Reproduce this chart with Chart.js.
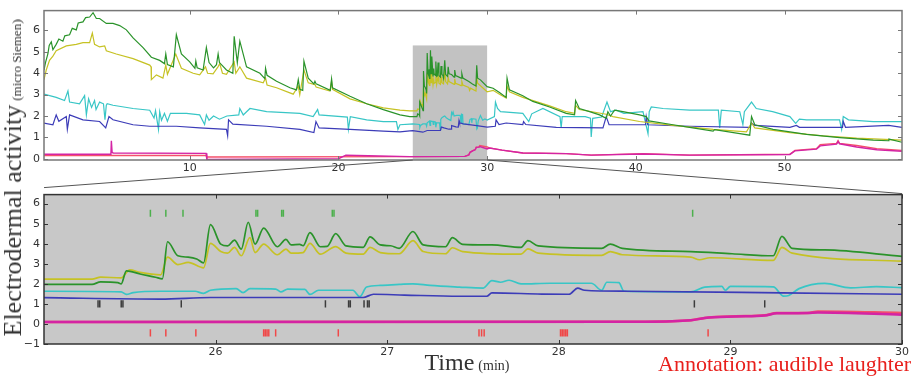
<!DOCTYPE html>
<html>
<head>
<meta charset="utf-8">
<script src="https://cdn.jsdelivr.net/npm/chart.js@4"></script>
<style>
body{margin:0;background:#fff;width:916px;height:382px;overflow:hidden;position:relative;font-family:"DejaVu Sans";}
canvas{position:absolute;left:0;}
#topCanvas{top:0;}
#botCanvas{top:184px;}
#links{top:0;pointer-events:none;}
.serif{position:absolute;font-family:"Liberation Serif";white-space:nowrap;color:#333;}
#ylab{left:15px;top:178px;line-height:28px;transform:translate(-50%,-50%) rotate(-90deg);}
#ylab .big{font-size:26px;}
#ylab .small{font-size:13px;}
#xlab{left:467px;top:350px;line-height:24px;transform:translateX(-50%);}
#xlab .big{font-size:24px;}
#xlab .small{font-size:14px;}
#note{right:5px;top:353px;line-height:22px;font-size:22px;color:#e8201c;}
</style>
</head>
<body>
<canvas id="topCanvas" width="916" height="178"></canvas>
<canvas id="botCanvas" width="916" height="176"></canvas>
<canvas id="links" width="916" height="382"></canvas>
<div id="ylab" class="serif"><span class="big">Electrodermal activity</span> <span class="small">(micro Siemen)</span></div>
<div id="xlab" class="serif"><span class="big">Time</span> <span class="small">(min)</span></div>
<div id="note" class="serif">Annotation: audible laughter</div>
<script>
// tick labels
var topXTicks = [10,20,30,40,50];
var topYTicks = [0,1,2,3,4,5,6];
var botXTicks = [26,27,28,29,30];
var botYTicks = [-1,0,1,2,3,4,5,6];

// zoomed window 25-30 min (also used inside the top overview)
var zoomGreenT = [25.0,25.28,25.33,25.43,25.45,25.48,25.56,25.65,25.69,25.72,25.78,25.84,25.89,25.93,25.97,26.03,26.07,26.11,26.15,26.19,26.23,26.28,26.36,26.41,26.44,26.49,26.51,26.55,26.61,26.65,26.70,26.76,26.86,26.90,26.96,27.02,27.07,27.15,27.21,27.34,27.38,27.44,27.61,27.78,27.82,27.88,28.25,28.30,28.37,28.77,29.01,29.25,29.30,29.36,29.55,30.0];
var zoomGreenV = [1.97,1.97,2.1,2.06,2.0,2.65,2.49,2.33,2.25,4.10,3.40,3.33,3.24,3.05,4.95,3.98,3.89,4.18,3.73,5.07,3.98,4.78,3.85,4.22,3.94,3.97,3.9,4.55,3.85,3.87,4.5,3.89,3.82,4.34,3.94,3.9,3.77,4.61,3.94,3.85,4.3,3.97,3.94,3.82,4.15,3.89,3.77,3.98,3.77,3.61,3.5,3.4,4.37,3.77,3.69,3.37];
var zoomYellowT = [25.0,25.28,25.33,25.45,25.50,25.56,25.68,25.72,25.78,25.84,25.93,25.97,26.03,26.07,26.11,26.15,26.20,26.23,26.28,26.36,26.41,26.44,26.51,26.55,26.61,26.70,26.76,26.86,26.90,26.96,27.07,27.15,27.21,27.34,27.38,27.44,27.78,27.82,27.88,28.25,28.30,28.37,28.77,28.82,28.88,29.25,29.30,29.36,30.0];
var zoomYellowV = [2.24,2.24,2.33,2.3,2.7,2.57,2.45,3.33,2.96,3.07,2.8,4.02,3.61,3.53,3.82,3.4,4.3,3.56,3.98,3.45,3.73,3.53,3.56,4.02,3.48,3.86,3.53,3.48,3.82,3.56,3.5,4.15,3.61,3.5,3.8,3.61,3.48,3.74,3.53,3.42,3.61,3.45,3.33,3.2,3.3,3.17,3.82,3.53,3.13];
var zoomCyanT = [25.0,25.45,25.48,25.52,25.68,25.88,25.93,25.97,26.12,26.16,26.2,26.35,26.38,26.42,26.52,26.55,26.6,26.8,26.84,26.88,26.96,27.07,27.15,27.25,27.42,27.56,27.61,27.66,27.71,27.78,27.95,28.19,28.25,28.28,28.35,28.38,28.77,28.85,28.95,28.97,29.0,29.25,29.31,29.34,29.4,29.55,29.7,29.85,30.0];
var zoomCyanV = [1.63,1.6,1.47,1.56,1.63,1.63,1.52,1.68,1.76,1.56,1.76,1.74,1.6,1.74,1.72,1.47,1.68,1.68,1.36,1.84,1.92,1.97,2.0,1.92,1.84,1.79,2.16,2.08,2.18,2.0,2.03,2.03,1.68,2.08,2.06,1.63,1.6,1.84,1.87,1.68,1.87,1.85,1.39,1.42,1.76,2.02,1.8,1.86,1.81];
var zoomBlueT = [25.0,25.68,25.97,26.86,26.92,27.1,27.42,27.58,27.61,27.9,28.06,28.11,28.15,28.4,29.3,30.0];
var zoomBlueV = [1.31,1.24,1.32,1.32,1.48,1.44,1.38,1.38,1.55,1.49,1.48,1.79,1.68,1.63,1.55,1.48];
var zoomRedT = [25.0,28.5,28.77,28.85,29.03,29.2,29.27,29.45,29.51,30.0];
var zoomRedV = [0.1,0.11,0.18,0.3,0.38,0.43,0.54,0.55,0.62,0.55];
var zoomMagentaT = [25.0,28.5,28.77,28.85,29.03,29.2,29.27,29.45,29.51,30.0];
var zoomMagentaV = [0.1,0.11,0.18,0.3,0.37,0.42,0.53,0.54,0.57,0.46];

// overview outside the zoom window
var topGreenT = [0.2,0.3,0.46,0.55,0.69,0.8,1.02,1.2,1.47,1.6,1.92,2.1,2.37,2.5,2.82,3.0,3.27,3.5,3.72,3.94,4.39,4.84,5.29,5.74,6.19,6.86,7.42,7.98,8.3,8.39,8.5,8.9,9.1,9.44,10.0,10.35,10.41,10.5,10.9,11.12,11.3,11.6,11.8,11.91,12.0,12.47,12.9,12.99,13.2,13.37,13.82,14.72,15.05,15.1,15.2,15.84,16.74,17.18,17.3,17.4,17.6,17.68,17.97,18.35,18.42,18.5,19.45,19.54,19.6,20.78,21.9,23.02,24.14,24.8,
  30.4,30.83,31.28,31.34,31.5,32.4,33.07,34.2,35.32,35.88,35.95,36.2,36.89,37.56,38.01,38.12,38.3,38.57,39.13,40.25,40.7,40.88,42.5,43.62,45.2,45.3,46.99,47.66,47.78,48.0,49.23,51.48,53.72,55.97,56.98,57.02,57.9];
var topGreenV = [4.15,4.5,4.9,5.3,5.47,5.1,5.35,5.6,5.5,5.75,5.8,6.1,6.03,6.35,6.4,6.6,6.63,6.83,6.56,6.56,6.33,6.33,6.23,6.03,5.65,5.2,4.75,4.6,4.45,4.9,4.4,4.3,5.8,4.9,4.53,4.23,4.57,4.25,4.15,5.2,4.5,4.25,4.4,4.9,4.5,4.15,4.0,5.73,4.5,5.5,4.3,4.0,3.75,4.23,3.9,3.62,3.32,3.22,3.7,3.25,3.2,4.57,3.77,3.5,3.62,3.5,3.2,3.73,3.32,2.92,2.57,2.3,2.05,1.97,
  3.3,3.1,2.87,3.77,3.22,2.95,2.68,2.42,2.12,2.05,2.72,2.35,2.2,2.05,1.89,2.2,2.0,2.27,2.2,2.05,1.97,1.77,1.59,1.47,1.29,1.36,1.17,1.1,1.97,1.59,1.37,1.14,0.99,0.87,0.84,0.92,0.77];
var topYellowT = [0.2,0.35,0.57,0.8,1.02,1.7,2.37,2.82,3.27,3.45,3.6,3.94,4.28,4.39,5.06,6.19,7.31,7.4,7.42,7.76,8.2,8.39,8.5,9.06,9.44,10.23,10.67,11.06,11.2,11.57,11.9,12.02,12.2,12.47,12.99,13.1,13.37,13.82,14.94,15.1,15.2,15.84,16.96,17.3,17.4,17.68,17.97,18.42,18.5,19.43,19.54,19.6,20.78,21.9,23.02,24.14,24.8,
  30.4,30.83,31.28,31.34,31.5,32.4,34.2,35.32,35.88,35.95,36.2,38.01,38.46,40.25,42.5,45.2,47.44,47.78,48.0,50.36,52.6,54.85,57.9];
var topYellowV = [3.7,4.15,4.6,4.8,5.05,5.28,5.35,5.43,5.43,5.88,5.35,5.23,5.28,5.05,4.9,4.68,4.38,4.3,3.7,3.92,3.77,4.38,3.95,4.9,4.23,4.0,3.92,4.3,4.0,3.97,4.3,4.45,4.0,3.95,4.53,4.0,4.3,3.77,3.55,3.77,3.45,3.32,3.02,3.4,3.0,4.15,3.55,3.47,3.35,3.17,3.62,3.25,2.8,2.57,2.38,2.27,2.24,
  3.2,3.02,2.84,3.4,3.13,2.87,2.47,2.2,2.12,2.5,2.3,2.08,1.97,1.74,1.56,1.37,1.26,1.67,1.44,1.22,1.07,0.96,0.87];
var topCyanT = [0.2,1.02,1.58,1.81,1.92,2.59,2.93,3.05,3.2,3.4,3.6,3.7,3.94,4.2,4.3,4.39,4.45,4.84,6.19,7.31,7.6,7.7,7.9,7.98,8.1,8.3,8.5,8.7,9.78,10.67,11.0,11.12,11.3,11.6,12.0,12.5,13.3,13.37,13.6,14.05,15.17,17.41,18.3,18.6,18.7,20.6,20.67,20.8,21.9,23.02,23.9,24.0,24.14,24.8,
  30.49,30.56,30.7,30.9,32.4,32.8,33.0,33.75,34.9,34.98,35.05,35.32,36.6,36.95,37.0,37.1,37.7,38.06,38.3,38.68,39.2,40.48,40.82,40.9,41.04,41.83,43.62,45.55,45.64,45.75,46.99,47.2,47.3,47.78,48.1,49.2,50.36,50.75,51.0,51.48,53.7,53.84,53.95,54.3,55.97,57.9];
var topCyanV = [3.02,2.87,2.72,3.17,2.65,2.57,2.95,2.05,2.8,2.4,2.72,2.3,2.65,2.57,1.82,2.5,2.57,2.5,2.35,2.27,1.9,2.25,1.37,2.2,1.8,2.12,1.75,2.12,2.12,2.05,1.6,2.05,1.8,2.0,1.85,2.0,2.05,2.35,2.05,2.35,2.2,2.12,1.97,2.3,2.05,1.95,1.37,1.97,1.82,1.74,1.74,1.37,1.59,1.62,
  1.97,2.65,2.35,2.2,2.12,1.74,2.1,2.35,1.97,1.44,1.97,1.97,1.97,1.9,1.02,1.89,1.95,2.65,2.2,2.27,2.12,2.2,1.17,2.2,2.42,2.35,2.27,2.27,1.44,2.27,2.2,1.6,2.2,2.65,2.35,2.2,1.97,1.65,1.85,1.82,1.82,1.37,1.97,1.82,1.74,1.74];
var topBlueT = [0.2,0.8,1.02,1.2,1.7,1.77,1.92,2.82,3.94,4.35,4.57,4.84,6.19,7.31,9.1,10.67,12.47,12.55,12.61,12.9,15.17,17.41,18.35,18.49,18.7,20.78,23.02,24.14,24.8,
  30.55,30.6,30.8,31.28,32.4,32.45,32.6,34.65,37.79,38.01,38.2,39.58,40.65,40.7,40.8,43.62,47.66,47.78,48.0,50.36,50.8,51.0,53.9,53.95,54.1,57.0,57.9];
var topBlueV = [1.67,1.59,2.05,1.75,1.97,1.37,2.05,1.82,1.74,1.44,1.97,1.82,1.59,1.52,1.52,1.44,1.37,1.07,1.82,1.62,1.52,1.37,1.22,1.74,1.44,1.37,1.29,1.26,1.3,
  1.52,1.82,1.6,1.67,1.6,1.74,1.6,1.47,1.44,1.97,1.59,1.59,1.59,1.97,1.59,1.52,1.47,1.67,1.56,1.47,1.56,1.47,1.47,1.74,1.47,1.56,1.47];
var topRedT = [0.2,11.1,11.15,24.8,30.15,31.0,32.4,35.32,37.0,40.5,43.6,50.36,50.7,52.15,52.4,53.5,53.6,53.7,54.85,56.2,57.9];
var topRedV = [0.15,0.15,0.08,0.1,0.51,0.4,0.27,0.24,0.17,0.24,0.17,0.21,0.39,0.47,0.66,0.72,0.84,0.72,0.62,0.47,0.39];
var topMagentaT = [0.2,4.7,4.73,4.78,4.85,11.1,11.15,20.0,20.5,22.0,24.8,30.15,31.0,32.4,35.32,37.0,40.5,43.6,50.36,50.7,52.15,52.4,53.5,53.6,53.7,54.85,56.2,57.9];
var topMagentaV = [0.21,0.21,0.84,0.3,0.27,0.25,-0.03,0.0,0.17,0.14,0.1,0.5,0.4,0.27,0.24,0.17,0.22,0.17,0.2,0.37,0.45,0.6,0.68,0.8,0.7,0.55,0.42,0.35];

// annotation events (minutes)
var greenEvents = [25.62,25.71,25.81,26.235,26.245,26.385,26.395,26.68,26.69,28.78];
var grayEvents = [25.315,25.325,25.45,25.46,25.80,26.64,26.775,26.785,26.865,26.885,26.895,28.79,29.20];
var redEvents = [25.62,25.71,25.885,26.28,26.29,26.30,26.31,26.35,26.715,27.535,27.55,27.565,28.01,28.02,28.03,28.04,28.05,28.87];
var greenLevel = 5.52, grayLevel = 1.0, redLevel = -0.45;

var colors = {green:"#2a932a", yellow:"#c6c224", cyan:"#38c6c6", blue:"#3c3cb8", magenta:"#d424a4", red:"#f4506a"};

function pts(t, v){ return t.map(function(x,i){ return {x:x, y:v[i]}; }); }
function merged(t1, v1, t2, v2){
	return pts(t1, v1).concat(pts(t2, v2)).sort(function(a,b){ return a.x - b.x; });
}
function events(times, level){
	var d = [];
	times.forEach(function(t){
		d.push({x:t, y:level-0.18}, {x:t, y:level+0.18}, {x:t, y:null});
	});
	return d;
}
function fixedTicks(arr){ return function(scale){ scale.ticks = arr.map(function(v){ return {value:v}; }); }; }
function minus(v){ return String(v).replace("-", "\u2212"); }

var framePlugin = {
	id:"frame",
	beforeDatasetsDraw:function(chart, args, o){
		var ctx = chart.ctx, a = chart.chartArea, x = chart.scales.x, y = chart.scales.y;
		ctx.save();
		if (o.bg){ ctx.fillStyle = o.bg; ctx.fillRect(a.left, a.top, a.width, a.height); }
		if (o.band){
			var x0 = x.getPixelForValue(o.band[0]), x1 = x.getPixelForValue(o.band[1]), y0 = y.getPixelForValue(o.band[2]);
			ctx.fillStyle = o.bandColor;
			ctx.fillRect(x0, y0, x1-x0, a.bottom-y0);
		}
		ctx.restore();
	},
	afterDatasetsDraw:function(chart, args, o){
		var ctx = chart.ctx, a = chart.chartArea, x = chart.scales.x, y = chart.scales.y;
		ctx.save();
		ctx.strokeStyle = o.color; ctx.lineWidth = 1;
		ctx.beginPath();
		x.ticks.forEach(function(t){
			var p = Math.round(x.getPixelForValue(t.value)) + 0.5;
			ctx.moveTo(p, a.bottom); ctx.lineTo(p, a.bottom-4);
			ctx.moveTo(p, a.top); ctx.lineTo(p, a.top+4);
		});
		y.ticks.forEach(function(t){
			var p = Math.round(y.getPixelForValue(t.value)) + 0.5;
			ctx.moveTo(a.left, p); ctx.lineTo(a.left+4, p);
			ctx.moveTo(a.right, p); ctx.lineTo(a.right-4, p);
		});
		ctx.stroke();
		ctx.lineWidth = 1.5;
		ctx.strokeRect(a.left, a.top, a.width, a.height);
		ctx.restore();
	}
};

function line(data, color, w){
	return {data:data, borderColor:color, borderWidth:w, pointRadius:0, fill:false};
}

var tickFont = {family:"DejaVu Sans", size:11};
var noGrid = {display:false, drawTicks:false};

var topChart = new Chart(document.getElementById("topCanvas"), {
	type:"line",
	data:{datasets:[
		line(merged(topGreenT, topGreenV, zoomGreenT, zoomGreenV), colors.green, 1.2),
		line(merged(topYellowT, topYellowV, zoomYellowT, zoomYellowV), colors.yellow, 1.2),
		line(merged(topBlueT, topBlueV, zoomBlueT, zoomBlueV), colors.blue, 1.2),
		line(merged(topCyanT, topCyanV, zoomCyanT, zoomCyanV), colors.cyan, 1.2),
		line(merged(topMagentaT, topMagentaV, zoomMagentaT, zoomMagentaV), colors.magenta, 1.4),
		line(merged(topRedT, topRedV, zoomRedT, zoomRedV), colors.red, 1.4)
	]},
	options:{
		responsive:false, animation:false,
		layout:{padding:{top:5, right:14, left:0, bottom:0}},
		plugins:{legend:{display:false}, tooltip:{enabled:false},
			frame:{color:"#777", band:[25,30,5.3], bandColor:"#c2c2c2"}},
		scales:{
			x:{type:"linear", min:0.2, max:57.9, afterBuildTicks:fixedTicks(topXTicks),
				afterFit:function(s){ s.height = 18; },
				grid:noGrid, border:{display:false},
				ticks:{font:tickFont, color:"#333", padding:2, maxRotation:0}},
			y:{min:-0.06, max:6.93, afterBuildTicks:fixedTicks(topYTicks),
				afterFit:function(s){ s.width = 44; },
				grid:noGrid, border:{display:false},
				ticks:{font:tickFont, color:"#333", padding:4}}
		}
	},
	plugins:[framePlugin]
});

var botChart = new Chart(document.getElementById("botCanvas"), {
	type:"line",
	data:{datasets:[
		line(events(greenEvents, greenLevel), "#4cb04c", 1.5),
		line(events(grayEvents, grayLevel), "#3c3c3c", 1.5),
		line(events(redEvents, redLevel), "#f04848", 1.5),
		Object.assign(line(pts(zoomGreenT, zoomGreenV), colors.green, 1.7), {cubicInterpolationMode:"monotone"}),
		Object.assign(line(pts(zoomYellowT, zoomYellowV), colors.yellow, 1.7), {cubicInterpolationMode:"monotone"}),
		Object.assign(line(pts(zoomBlueT, zoomBlueV), colors.blue, 1.7), {cubicInterpolationMode:"monotone"}),
		Object.assign(line(pts(zoomCyanT, zoomCyanV), colors.cyan, 1.7), {cubicInterpolationMode:"monotone"}),
		Object.assign(line(pts(zoomMagentaT, zoomMagentaV), colors.magenta, 2.5), {cubicInterpolationMode:"monotone"}),
		Object.assign(line(pts(zoomRedT, zoomRedV), colors.red, 2.5), {cubicInterpolationMode:"monotone"})
	]},
	options:{
		responsive:false, animation:false,
		layout:{padding:{top:6, right:14, left:0, bottom:0}},
		plugins:{legend:{display:false}, tooltip:{enabled:false},
			frame:{color:"#333", bg:"#c8c8c8"}},
		scales:{
			x:{type:"linear", min:25, max:30, afterBuildTicks:fixedTicks(botXTicks),
				afterFit:function(s){ s.height = 16; },
				grid:noGrid, border:{display:false},
				ticks:{font:tickFont, color:"#333", padding:2, maxRotation:0}},
			y:{min:-1, max:6.45, afterBuildTicks:fixedTicks(botYTicks),
				afterFit:function(s){ s.width = 44; },
				grid:noGrid, border:{display:false},
				ticks:{font:tickFont, color:"#333", padding:4, callback:minus}}
		}
	},
	plugins:[framePlugin]
});

// connector lines from the highlighted window to the zoom panel
(function(){
	var ctx = document.getElementById("links").getContext("2d");
	var ta = topChart.chartArea, ba = botChart.chartArea, off = 184;
	ctx.strokeStyle = "#555"; ctx.lineWidth = 1;
	ctx.beginPath();
	ctx.moveTo(topChart.scales.x.getPixelForValue(25), ta.bottom);
	ctx.lineTo(ba.left, off + ba.top - 7);
	ctx.moveTo(topChart.scales.x.getPixelForValue(30), ta.bottom);
	ctx.lineTo(ba.right, off + ba.top - 1);
	ctx.stroke();
})();
</script>
</body>
</html>
